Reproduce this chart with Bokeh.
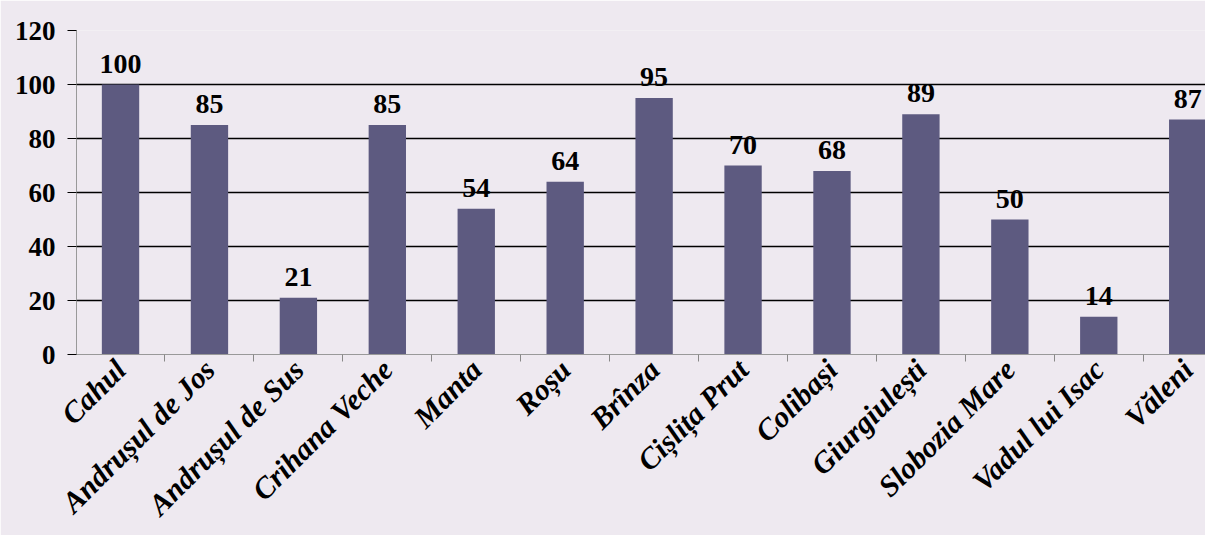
from bokeh.plotting import figure
from bokeh.models import ColumnDataSource, FixedTicker, LabelSet, Range1d
from bokeh.embed import file_html
from bokeh.resources import INLINE

localities = ["Cahul", "Andrușul de Jos", "Andrușul de Sus", "Crihana Veche", "Manta",
              "Roșu", "Brînza", "Cișlița Prut", "Colibași", "Giurgiulești",
              "Slobozia Mare", "Vadul lui Isac", "Văleni"]
values = [100, 85, 21, 85, 54, 64, 95, 70, 68, 89, 50, 14, 87]
y_ticks = [0, 20, 40, 60, 80, 100, 120]

idx = list(range(len(localities)))
src = ColumnDataSource(dict(x=idx, top=values, lab=[str(v) for v in values]))

BG = "#eee9f0"
FONT = "'Liberation Serif', 'Times New Roman', serif"

p = figure(x_range=Range1d(-0.495, 12.2), y_range=Range1d(0, 120), width=1205, height=535,
           output_backend="svg", toolbar_location=None,
           min_border_left=76, min_border_right=0, min_border_top=30, min_border_bottom=180)
p.background_fill_color = BG
p.border_fill_color = BG
p.outline_line_color = None

p.vbar(x="x", top="top", width=0.42, source=src, fill_color="#5d5a80", line_color=None)

labels = LabelSet(x="x", y="top", text="lab", source=src, text_align="center",
                  text_baseline="bottom", y_offset=12, text_font=FONT,
                  text_font_style="bold", text_font_size="28px", text_color="black")
p.add_layout(labels)

p.xgrid.grid_line_color = None
p.ygrid.ticker = FixedTicker(ticks=y_ticks[1:])
p.ygrid.grid_line_color = "black"
p.ygrid.grid_line_width = 1.3

p.yaxis.ticker = FixedTicker(ticks=y_ticks)
p.yaxis.axis_line_color = "#999999"
p.yaxis.major_tick_out = 9
p.yaxis.major_tick_in = 0
p.yaxis.major_tick_line_color = "black"
p.yaxis.minor_tick_line_color = None
p.yaxis.major_label_text_font = FONT
p.yaxis.major_label_text_font_style = "bold"
p.yaxis.major_label_text_font_size = "27px"
p.yaxis.major_label_text_color = "black"
p.yaxis.major_label_standoff = 12

p.xaxis.ticker = FixedTicker(ticks=idx, minor_ticks=[i + 0.5 for i in idx])
p.xaxis.major_label_overrides = {i: name for i, name in zip(idx, localities)}
p.xaxis.axis_line_color = "#999999"
p.xaxis.major_tick_line_color = None
p.xaxis.minor_tick_line_color = "#888888"
p.xaxis.minor_tick_out = 7
p.xaxis.minor_tick_in = 0
p.xaxis.major_label_orientation = 0.785
p.xaxis.major_label_text_font = FONT
p.xaxis.major_label_text_font_style = "bold italic"
p.xaxis.major_label_text_font_size = "30px"
p.xaxis.major_label_text_color = "black"
p.xaxis.major_label_standoff = 3

open("out.html", "w").write(file_html(p, INLINE))
